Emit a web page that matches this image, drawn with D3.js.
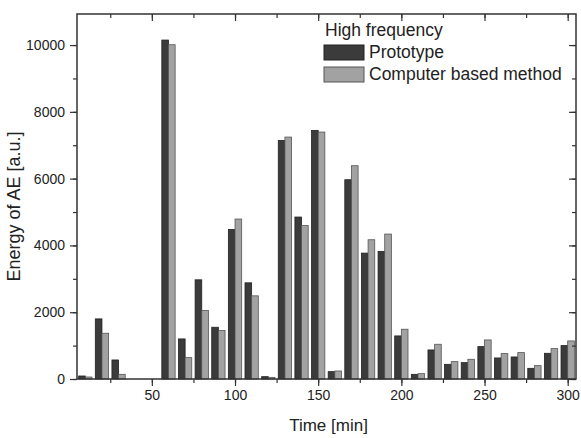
<!DOCTYPE html>
<html><head><meta charset="utf-8">
<script src="https://cdn.jsdelivr.net/npm/d3@7"></script>
<style>body{margin:0;background:#fff}svg{display:block}text{font-family:Arial,"Liberation Sans",sans-serif;fill:#222}</style>
</head><body><svg id="c" width="581" height="438"></svg>
<script>
const times = [10,20,30,40,50,60,70,80,90,100,110,120,130,140,150,160,170,180,190,200,210,220,230,240,250,260,270,280,290,300];
const prototype = [90,1800,570,0,0,10150,1200,2970,1550,4480,2880,70,7145,4850,7445,220,5967,3770,3820,1290,140,870,440,490,970,630,660,320,770,1000];
const computerMethod = [60,1370,140,0,0,10010,640,2050,1450,4790,2490,50,7245,4600,7395,240,6387,4170,4340,1490,160,1040,520,590,1170,760,790,400,910,1140];
const seriesNames = ["Prototype","Computer based method"];
const legendTitle = "High frequency";
const yMajorTicks = [0,2000,4000,6000,8000,10000];
const xMajorTicks = [50,100,150,200,250,300];

const svg = d3.select("#c");
const L=77,R=576,T=14,B=379;
const x = d3.scaleLinear().domain([5,305]).range([L,R]);
const y = d3.scaleLinear().domain([0,10930]).range([B,T]);
const bw = 4; // bar width in minutes
const dark="#3b3b3b", light="#a2a2a2";

const g = svg.append("g");
g.selectAll("rect.p").data(times).join("rect")
 .attr("x",(d)=>x(d-bw)).attr("width",(d)=>x(d)-x(d-bw))
 .attr("y",(d,i)=>y(prototype[i])).attr("height",(d,i)=>y(0)-y(prototype[i]))
 .attr("fill",dark).attr("stroke","#222").attr("stroke-width",0.8);
g.selectAll("rect.c").data(times).join("rect")
 .attr("x",(d)=>x(d)).attr("width",(d)=>x(d+bw)-x(d))
 .attr("y",(d,i)=>y(computerMethod[i])).attr("height",(d,i)=>y(0)-y(computerMethod[i]))
 .attr("fill",light).attr("stroke","#555").attr("stroke-width",0.8);

const yMinor = d3.range(0,11000,1000);
const xMinor = d3.range(25,305,25);
const axCol="#333";
function tickStyle(sel){sel.select(".domain").remove();sel.selectAll("line").attr("stroke",axCol).attr("stroke-width",1.2);sel.selectAll("text").attr("font-size",14).attr("fill","#222");}
svg.append("g").attr("transform",`translate(${L},0)`).call(d3.axisLeft(y).tickValues(yMinor).tickSize(4).tickFormat("")).call(tickStyle);
svg.append("g").attr("transform",`translate(${L},0)`).call(d3.axisLeft(y).tickValues(yMajorTicks).tickSize(7).tickPadding(5).tickFormat(d3.format("d"))).call(tickStyle);
svg.append("g").attr("transform",`translate(${R},0)`).call(d3.axisLeft(y).tickValues(yMinor).tickSize(4).tickFormat("")).call(tickStyle);
svg.append("g").attr("transform",`translate(${R},0)`).call(d3.axisLeft(y).tickValues(yMajorTicks).tickSize(7).tickFormat("")).call(tickStyle);
svg.append("g").attr("transform",`translate(0,${B})`).call(d3.axisBottom(x).tickValues(xMinor).tickSize(4).tickFormat("")).call(tickStyle);
svg.append("g").attr("transform",`translate(0,${B})`).call(d3.axisBottom(x).tickValues(xMajorTicks).tickSize(7).tickPadding(4).tickFormat(d3.format("d"))).call(tickStyle);
svg.append("g").attr("transform",`translate(0,${T})`).call(d3.axisBottom(x).tickValues(xMinor).tickSize(4).tickFormat("")).call(tickStyle);
svg.append("g").attr("transform",`translate(0,${T})`).call(d3.axisBottom(x).tickValues(xMajorTicks).tickSize(7).tickFormat("")).call(tickStyle);

svg.append("rect").attr("x",L).attr("y",T).attr("width",R-L).attr("height",B-T)
 .attr("fill","none").attr("stroke",axCol).attr("stroke-width",1.5);

svg.append("text").attr("x",(L+R)/2+2).attr("y",431).attr("text-anchor","middle").attr("font-size",17).text("Time [min]");
svg.append("text").attr("transform",`translate(20,${(T+B)/2+10}) rotate(-90)`).attr("text-anchor","middle").attr("font-size",18).text("Energy of AE [a.u.]");

const lg = svg.append("g");
lg.append("text").attr("x",325).attr("y",36).attr("font-size",17.5).text(legendTitle);
[dark,light].forEach((c,i)=>{
  lg.append("rect").attr("x",324).attr("y",45+i*22).attr("width",40).attr("height",15)
    .attr("fill",c).attr("stroke",i?"#555":"#222").attr("stroke-width",1);
  lg.append("text").attr("x",369).attr("y",58+i*22).attr("font-size",17.5).text(seriesNames[i]);
});
</script></body></html>
